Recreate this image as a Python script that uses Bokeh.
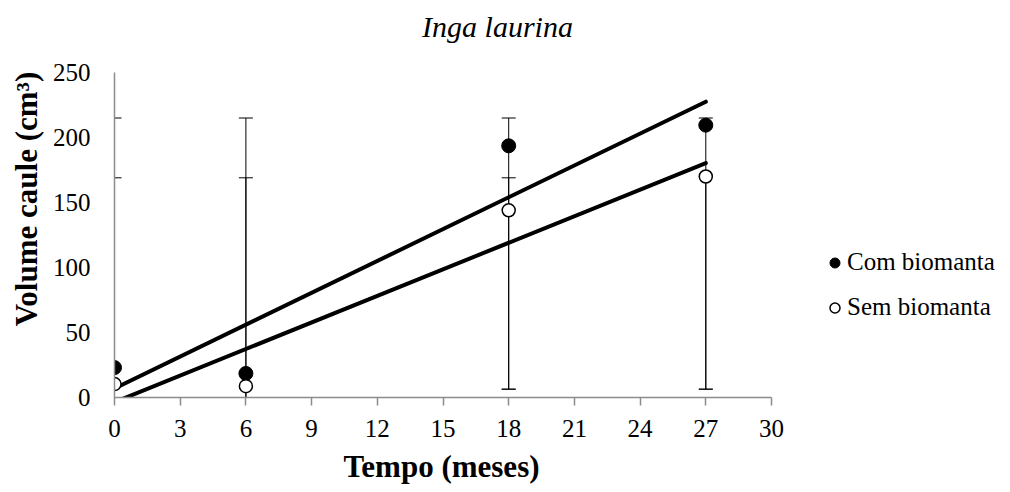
import numpy as np
from bokeh.plotting import figure
from bokeh.models import (Range1d, FixedTicker, Legend, LegendItem, ColumnDataSource,
                          Label, Title)
from bokeh.embed import file_html
from bokeh.resources import INLINE

# ---- data ----
meses = [0, 6, 18, 27]
com_biomanta = [23, 18.5, 193.6, 209.5]
sem_biomanta = [10.3, 8.7, 144, 170]
com_err_upper = [215, 215, 215, 215]
com_err_lower = [-20, -20, 6.4, 6.4]
sem_err_upper = [169, 169, 169, 170]
sem_err_lower = [-20, -20, 6.4, 6.4]
x_ticks = [0, 3, 6, 9, 12, 15, 18, 21, 24, 27, 30]
y_ticks = [0, 50, 100, 150, 200, 250]
series_names = ["Com biomanta", "Sem biomanta"]
title_text = "Inga laurina"
x_title = "Tempo (meses)"
y_title = "Volume caule (cm³)"

SERIF = "Liberation Serif"

# ---- layout (pixels) ----
W, H = 1010, 492
LEFT, BOTTOM = 114, 95          # frame starts at x=114 and ends at y=397
AX_RIGHT_PX, AX_TOP_PX = 771, 72  # where x=30 and y=250 sit
X_AX = (0, 30)
Y_AX = (0, 250)
frame_w = W - LEFT
frame_h = H - BOTTOM
x_scale = (AX_RIGHT_PX - LEFT) / (X_AX[1] - X_AX[0])
y_scale = (frame_h - AX_TOP_PX) / (Y_AX[1] - Y_AX[0])
x_end = X_AX[0] + frame_w / x_scale
y_end = Y_AX[0] + frame_h / y_scale

p = figure(width=W, height=H, output_backend="svg", toolbar_location=None,
           x_range=Range1d(X_AX[0], x_end), y_range=Range1d(Y_AX[0], y_end),
           min_border_left=LEFT, min_border_right=0, min_border_top=0,
           min_border_bottom=BOTTOM)
p.outline_line_color = None
p.xgrid.visible = False
p.ygrid.visible = False
p.background_fill_color = "white"
p.border_fill_color = "white"

# axes
for ax in (p.xaxis[0], p.yaxis[0]):
    ax.axis_line_color = "#8c8c8c"
    ax.axis_line_width = 1.5
    ax.major_tick_line_color = "#8c8c8c"
    ax.major_tick_line_width = 1.5
    ax.minor_tick_line_color = None
    ax.major_label_text_font = SERIF
    ax.major_label_text_font_size = "25px"
    ax.major_label_text_color = "black"
    ax.axis_label_text_font = SERIF
    ax.axis_label_text_font_style = "bold"
    ax.axis_label_text_font_size = "31px"
    ax.axis_label_text_color = "black"

p.xaxis.bounds = X_AX
p.yaxis.bounds = Y_AX
p.xaxis.ticker = FixedTicker(ticks=x_ticks)
p.yaxis.ticker = FixedTicker(ticks=y_ticks)
p.xaxis.major_tick_out = 8
p.xaxis.major_tick_in = 0
p.xaxis.major_label_standoff = 14
p.yaxis.major_tick_out = 0
p.yaxis.major_tick_in = 0
p.yaxis.major_label_standoff = 24
p.yaxis.axis_label = y_title
p.yaxis.axis_label_standoff = 6

# x axis title, under the 0..30 axis
xt = Title(text=x_title, align="left", offset=229, vertical_align="bottom", standoff=14,
           text_font=SERIF, text_font_style="bold", text_font_size="31px",
           text_color="black")
p.add_layout(xt, "below")

# error bars
for ys, up, lo in ((com_biomanta, com_err_upper, com_err_lower),
                   (sem_biomanta, sem_err_upper, sem_err_lower)):
    src = ColumnDataSource(dict(x=meses, up=up, lo=lo))
    p.segment(x0="x", y0="lo", x1="x", y1="up", source=src, line_color="black", line_width=1)
    p.scatter(x="x", y="up", source=src, marker="dash", size=14, line_color="black", line_width=1)
    p.scatter(x="x", y="lo", source=src, marker="dash", size=14, line_color="black", line_width=1)

# trendlines (linear least squares on the series)
xs_line = np.array([min(meses), max(meses)], dtype=float)
for ys in (com_biomanta, sem_biomanta):
    b, a = np.polyfit(meses, ys, 1)
    p.line(xs_line, a + b * xs_line, line_color="black", line_width=4, line_cap="round")

# markers
r_com = p.scatter(meses, com_biomanta, marker="circle", size=14,
                  fill_color="black", line_color="black")
r_sem = p.scatter(meses, sem_biomanta, marker="circle", size=13,
                  fill_color="white", line_color="black", line_width=1.5)

# chart title (screen units are measured from the frame's bottom-left corner)
p.add_layout(Label(x=497 - LEFT, y=frame_h - 26, x_units="screen", y_units="screen",
                   text=title_text, text_font=SERIF, text_font_style="italic",
                   text_font_size="30px", text_align="center",
                   text_baseline="alphabetic", text_color="black"))

legend = Legend(items=[LegendItem(label=series_names[0], renderers=[r_com]),
                       LegendItem(label=series_names[1], renderers=[r_sem])],
                location=(708, 76))
legend.label_text_font = SERIF
legend.label_text_font_size = "25px"
legend.label_text_color = "black"
legend.glyph_width = 25
legend.glyph_height = 25
legend.label_height = 25
legend.label_standoff = 0
legend.spacing = 17
legend.padding = 0
legend.margin = 0
legend.border_line_color = None
legend.background_fill_alpha = 0
p.add_layout(legend, "center")

open("out.html", "w").write(file_html(p, INLINE))
